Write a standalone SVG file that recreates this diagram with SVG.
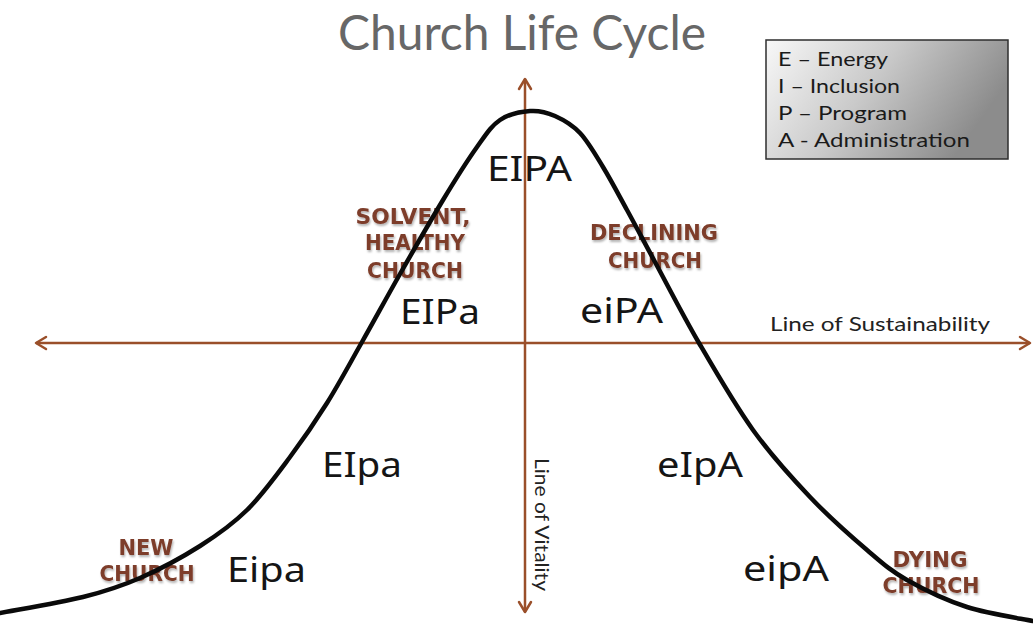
<svg xmlns="http://www.w3.org/2000/svg" width="1033" height="626" viewBox="0 0 1033 626">
  <style>
    .stage { font-family: "Noto Sans", "DejaVu Sans", sans-serif; font-size: 35px; fill: #151515; }
    .brown { font-family: "DejaVu Sans", "Liberation Sans", sans-serif; font-weight: bold; font-size: 22px; fill: #7d3c2a; text-anchor: middle; filter: url(#shadow); }
    .legend { font-family: Lato, "Liberation Sans", sans-serif; font-size: 20px; fill: #1a1a1a; }
    .axis { stroke: #9a4f2a; stroke-width: 2.5; fill: none; }
    .axislabel { font-family: Lato, "Liberation Sans", sans-serif; font-size: 20px; fill: #222; }
  </style>
  <defs>
    <marker id="chev" markerUnits="userSpaceOnUse" markerWidth="16" markerHeight="16" viewBox="0 0 16 16" refX="13" refY="8" orient="auto-start-reverse">
      <path d="M3,2 L13,8 L3,14" fill="none" stroke="#9a4f2a" stroke-width="2.5" stroke-linecap="round" stroke-linejoin="round"/>
    </marker>
    <linearGradient id="boxgrad" x1="0" y1="0" x2="1" y2="0.35">
      <stop offset="0" stop-color="#f8f8f8"/>
      <stop offset="0.5" stop-color="#c9c9c9"/>
      <stop offset="1" stop-color="#8c8c8c"/>
    </linearGradient>
    <filter id="shadow" x="-10%" y="-20%" width="120%" height="160%">
      <feDropShadow dx="1" dy="2" stdDeviation="1.2" flood-color="#000" flood-opacity="0.3"/>
    </filter>
  </defs>

  <rect width="1033" height="626" fill="#ffffff"/>

  <g id="title">
    <text x="338" y="50" font-family="Lato, 'Liberation Sans', sans-serif" font-size="48" fill="#676767" textLength="368" lengthAdjust="spacingAndGlyphs">Church Life Cycle</text>
  </g>

  <g id="legend">
    <rect x="766" y="40" width="242" height="119" fill="url(#boxgrad)" stroke="#2e2e2e" stroke-width="1.5"/>
    <text class="legend" x="778" y="66" textLength="110" lengthAdjust="spacingAndGlyphs">E – Energy</text>
    <text class="legend" x="778" y="93" textLength="122" lengthAdjust="spacingAndGlyphs">I – Inclusion</text>
    <text class="legend" x="778" y="120" textLength="129" lengthAdjust="spacingAndGlyphs">P – Program</text>
    <text class="legend" x="778" y="147" textLength="192" lengthAdjust="spacingAndGlyphs">A - Administration</text>
  </g>

  <g id="stage-labels">
    <g id="label-solvent">
      <text class="brown" x="413" y="224" textLength="115" lengthAdjust="spacingAndGlyphs">SOLVENT,</text>
      <text class="brown" x="415" y="250" textLength="100" lengthAdjust="spacingAndGlyphs">HEALTHY</text>
      <text class="brown" x="415" y="278" textLength="96" lengthAdjust="spacingAndGlyphs">CHURCH</text>
    </g>
    <g id="label-declining">
      <text class="brown" x="654" y="240" textLength="128" lengthAdjust="spacingAndGlyphs">DECLINING</text>
      <text class="brown" x="655" y="268" textLength="94" lengthAdjust="spacingAndGlyphs">CHURCH</text>
    </g>
    <g id="label-new">
      <text class="brown" x="146" y="555" textLength="55" lengthAdjust="spacingAndGlyphs">NEW</text>
      <text class="brown" x="147" y="581" textLength="95" lengthAdjust="spacingAndGlyphs">CHURCH</text>
    </g>
    <g id="label-dying">
      <text class="brown" x="930" y="567" textLength="75" lengthAdjust="spacingAndGlyphs">DYING</text>
      <text class="brown" x="931" y="593" textLength="97" lengthAdjust="spacingAndGlyphs">CHURCH</text>
    </g>
  </g>

  <g id="connectors">
    <line class="axis" x1="36" y1="343" x2="1030" y2="343" marker-start="url(#chev)" marker-end="url(#chev)"/>
    <line class="axis" x1="525" y1="612" x2="525" y2="79" marker-start="url(#chev)" marker-end="url(#chev)"/>
  </g>

  <g id="axis-labels">
    <text class="axislabel" x="770" y="331" textLength="220" lengthAdjust="spacingAndGlyphs">Line of Sustainability</text>
    <text class="axislabel" font-size="19" transform="translate(535,458) rotate(90)" textLength="133" lengthAdjust="spacingAndGlyphs">Line of Vitality</text>
  </g>

  <g id="curve">
    <path d="M0,613 C13.8,610.3 59.7,602.8 83,597 C106.3,591.2 120.5,586.5 140,578 C159.5,569.5 182.2,557.3 200,546 C217.8,534.7 232,524.8 247,510 C262,495.2 276.7,474.8 290,457 C303.3,439.2 315,422.2 327,403 C339,383.8 349.8,363.5 362,342 C374.2,320.5 386.5,297.7 400,274 C413.5,250.3 430.2,221.2 443,200 C455.8,178.8 467.5,160.3 477,147 C486.5,133.7 491.2,126 500,120 C508.8,114 520.8,111.7 530,111 C539.2,110.3 546.7,112.3 555,116 C563.3,119.7 572,124.5 580,133 C588,141.5 595.2,154.2 603,167 C610.8,179.8 618.3,194.2 627,210 C635.7,225.8 643,239.8 655,262 C667,284.2 682.7,315 699,343 C715.3,371 734.5,404.3 753,430 C771.5,455.7 791,477 810,497 C829,517 850.8,536.2 867,550 C883.2,563.8 890.3,570.5 907,580 C923.7,589.5 946,600.2 967,607 C988,613.8 1022,618.7 1033,621" fill="none" stroke="#0a0a0a" stroke-width="4.5" stroke-linecap="round"/>
  </g>

  <g id="stages">
    <g id="s-EIPA"><text class="stage" x="487" y="181" font-size="38" textLength="85" lengthAdjust="spacingAndGlyphs">EIPA</text></g>
    <g id="s-EIPa"><text class="stage" x="400" y="324" textLength="80" lengthAdjust="spacingAndGlyphs">EIPa</text></g>
    <g id="s-eiPA"><text class="stage" x="580" y="323" textLength="83" lengthAdjust="spacingAndGlyphs">eiPA</text></g>
    <g id="s-EIpa"><text class="stage" x="322" y="477" textLength="80" lengthAdjust="spacingAndGlyphs">EIpa</text></g>
    <g id="s-eIpA"><text class="stage" x="657" y="477" textLength="86" lengthAdjust="spacingAndGlyphs">eIpA</text></g>
    <g id="s-Eipa"><text class="stage" x="227" y="582" textLength="79" lengthAdjust="spacingAndGlyphs">Eipa</text></g>
    <g id="s-eipA"><text class="stage" x="743" y="581" textLength="86" lengthAdjust="spacingAndGlyphs">eipA</text></g>
  </g>
</svg>
